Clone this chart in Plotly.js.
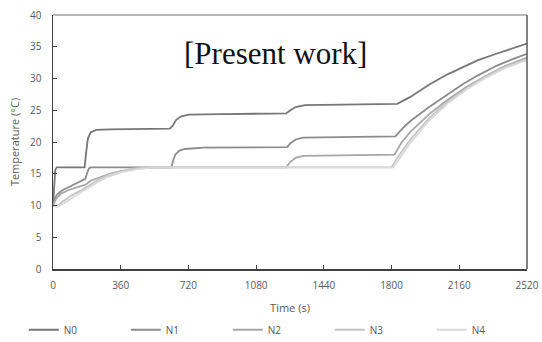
<!DOCTYPE html>
<html>
<head>
<meta charset="utf-8">
<script src="https://cdn.plot.ly/plotly-3.0.1.min.js"></script>
<style>
  html, body { margin: 0; padding: 0; background: #fff; }
  #chart { width: 542px; height: 342px; }
</style>
</head>
<body>
<div id="chart"></div>
<script>
// Node temperatures over time (s -> °C)
const seriesNames = ["N0", "N1", "N2", "N3", "N4"];

const tN0 = [0, 5, 12, 20, 168, 175, 185, 200, 230, 300, 620, 635, 655, 680, 720, 900, 1240, 1262, 1290, 1340, 1500, 1830, 1900, 2003, 2100, 2178, 2260, 2357, 2440, 2520];
const yN0 = [10, 13, 15.6, 16, 16, 18, 20.5, 21.5, 21.9, 22, 22.1, 22.5, 23.5, 24.0, 24.3, 24.4, 24.5, 25.0, 25.5, 25.8, 25.9, 26.0, 27.1, 29.1, 30.7, 31.8, 32.9, 33.9, 34.7, 35.5];

const tN1 = [0, 8, 20, 50, 90, 130, 172, 180, 190, 200, 630, 638, 650, 670, 700, 800, 1245, 1262, 1290, 1330, 1500, 1820, 1860, 1900, 2000, 2100, 2178, 2260, 2357, 2440, 2520];
const yN1 = [10, 11, 11.7, 12.4, 13.0, 13.6, 14.2, 15, 15.8, 16, 16, 17, 18, 18.6, 18.9, 19.1, 19.2, 19.8, 20.4, 20.7, 20.8, 20.9, 22.2, 23.3, 25.5, 27.6, 29.1, 30.5, 32.0, 33.0, 33.9];

const tN2 = [0, 15, 40, 80, 130, 175, 200, 250, 300, 360, 450, 540, 1240, 1260, 1290, 1330, 1500, 1816, 1850, 1900, 2000, 2100, 2200, 2300, 2400, 2520];
const yN2 = [10, 11, 11.8, 12.4, 12.9, 13.3, 13.9, 14.5, 15.0, 15.4, 15.8, 16, 16, 16.8, 17.5, 17.8, 17.9, 18, 19.8, 21.6, 24.4, 26.7, 28.7, 30.4, 31.9, 33.3];

const tN3 = [0, 20, 50, 100, 150, 200, 250, 300, 360, 420, 500, 1800, 1830, 1900, 2000, 2100, 2200, 2300, 2400, 2520];
const yN3 = [10, 9.9, 10.6, 11.6, 12.4, 13.3, 14.2, 14.9, 15.4, 15.8, 16, 16, 17.5, 20.4, 23.8, 26.4, 28.5, 30.3, 31.8, 33.1];

const tN4 = [0, 25, 60, 100, 150, 200, 250, 300, 360, 440, 540, 1810, 1840, 1900, 2000, 2100, 2200, 2300, 2400, 2520];
const yN4 = [10, 9.8, 10.4, 11.2, 12.1, 13.0, 13.9, 14.6, 15.2, 15.7, 16, 16, 17.3, 19.9, 23.4, 26.1, 28.3, 30.1, 31.6, 32.9];

const xTicks = [0, 360, 720, 1080, 1440, 1800, 2160, 2520];
const yTicks = [0, 5, 10, 15, 20, 25, 30, 35, 40];

const times = [tN0, tN1, tN2, tN3, tN4];
const temps = [yN0, yN1, yN2, yN3, yN4];
const colors = ["#767676", "#8c8c8c", "#a6a6a6", "#c4c4c4", "#d9d9d9"];

const traces = seriesNames.map((name, i) => ({
  type: "scatter",
  mode: "lines",
  name: name,
  x: times[i],
  y: temps[i],
  line: { color: colors[i], width: 1.8 },
  hoverinfo: "skip"
}));

const uiFont = "Open Sans, Noto Sans, sans-serif";
const tickFont = { family: uiFont, size: 10, color: "#595959" };

const layout = {
  width: 542,
  height: 342,
  margin: { l: 53, r: 15, t: 15, b: 73, autoexpand: false },
  paper_bgcolor: "#ffffff",
  plot_bgcolor: "#ffffff",
  showlegend: true,
  xaxis: {
    range: [0, 2520],
    tickvals: xTicks,
    ticktext: xTicks.map(String),
    ticks: "inside",
    ticklen: 4,
    tickcolor: "#404040",
    ticklabelstandoff: 6,
    showline: true,
    linecolor: "#404040",
    linewidth: 1.5,
    showgrid: false,
    zeroline: false,
    automargin: false,
    tickfont: tickFont,
    title: { text: "Time (s)", font: { family: uiFont, size: 11, color: "#595959" }, standoff: 14 },
    fixedrange: true
  },
  yaxis: {
    range: [0, 40],
    tickvals: yTicks,
    ticktext: yTicks.map(String),
    ticks: "inside",
    ticklen: 4,
    tickcolor: "#404040",
    ticklabelstandoff: 8,
    showline: true,
    linecolor: "#404040",
    linewidth: 1.5,
    showgrid: false,
    zeroline: false,
    automargin: false,
    tickfont: tickFont,
    title: { text: "Temperature (°C)", font: { family: uiFont, size: 11, color: "#595959" }, standoff: 8 },
    fixedrange: true
  },
  shapes: [
    { type: "line", xref: "paper", yref: "paper", x0: 0, x1: 1, y0: 1, y1: 1, line: { color: "#a0a0a0", width: 1.5 } },
    { type: "line", xref: "paper", yref: "paper", x0: 1, x1: 1, y0: 0, y1: 1, line: { color: "#595959", width: 1.5 } }
  ],
  annotations: [
    {
      text: "[Present work]",
      xref: "paper", yref: "paper",
      x: 0.47, y: 0.85,
      xanchor: "center", yanchor: "middle",
      showarrow: false,
      font: { family: "Liberation Serif, Times New Roman, serif", size: 31, color: "#111111" }
    }
  ],
  legend: {
    orientation: "h",
    x: -0.0616, y: -0.182,
    xanchor: "left", yanchor: "top",
    entrywidth: 57,
    entrywidthmode: "pixels",
    font: { family: uiFont, size: 10, color: "#595959" },
    bgcolor: "rgba(0,0,0,0)"
  }
};

Plotly.newPlot("chart", traces, layout, { displayModeBar: false, staticPlot: true });
</script>
</body>
</html>
